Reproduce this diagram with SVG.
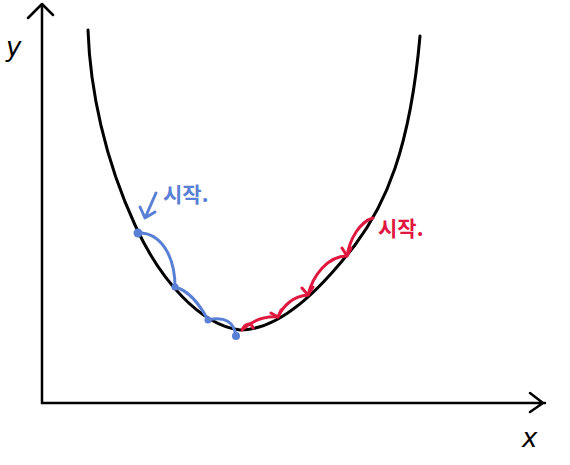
<svg xmlns="http://www.w3.org/2000/svg" width="570" height="465" viewBox="0 0 570 465">
<style>
.ax{fill:none;stroke:#000;stroke-width:2.5;stroke-linecap:round;stroke-linejoin:round}
.cv{fill:none;stroke:#000;stroke-width:3;stroke-linecap:round}
.b{fill:none;stroke:#5a80d5;stroke-width:3;stroke-linecap:round;stroke-linejoin:round}
.r{fill:none;stroke:#e0173f;stroke-width:3;stroke-linecap:round;stroke-linejoin:round}
.bt{fill:#5a80d5;font-family:"Noto Sans CJK KR",sans-serif;font-size:21px;font-weight:bold}
.rt{fill:#e0173f;font-family:"Noto Sans CJK KR",sans-serif;font-size:21px;font-weight:bold}
.lt{fill:#000;font-family:"DejaVu Sans",sans-serif;font-style:italic;font-size:26px}
</style>
<rect width="570" height="465" fill="#fff"/>
<g id="axes">
<path class="ax" d="M42,403 L42,4 M28,18 L42,4 L53,15"/>
<path class="ax" d="M42,403 L545,403 M530,393 L543,403 L530,412"/>
<text class="lt" x="6" y="56">y</text>
<text class="lt" x="522" y="447">x</text>
</g>
<g id="curve">
<path class="cv" d="M88,30 C90,90 105,160 135,225 C160,280 200,325 240,330 C280,330 320,290 355,245 C385,205 410,150 420,36"/>
</g>
<g id="blue">
<path class="b" d="M138,233 C160,232 175,255 175,287 C188,290 200,305 208,320 C225,316 234,322 236,336"/>
<path class="b" d="M156,193 L145,218 M140,207 L145,218 L155,212"/>
<g fill="#5a80d5">
<circle cx="138" cy="233" r="4.5"/>
<circle cx="175" cy="287" r="3.5"/>
<circle cx="208" cy="320" r="3.5"/>
<circle cx="236" cy="336" r="4"/>
</g>
<text class="bt" x="163" y="202">시작.</text>
</g>
<g id="red">
<path class="r" d="M373,218 C360,222 350,238 347,256 C328,256 313,275 308,295 C293,296 283,306 278,317 C265,316 253,320 242,330 C245,323 251,322 253,328"/>
<path class="r" d="M342,248 L347,256 L351,248 M302,288 L308,295 L313,287 M271,313 L278,317 L281,310"/>
<text class="rt" x="378" y="236">시작.</text>
</g>
</svg>
